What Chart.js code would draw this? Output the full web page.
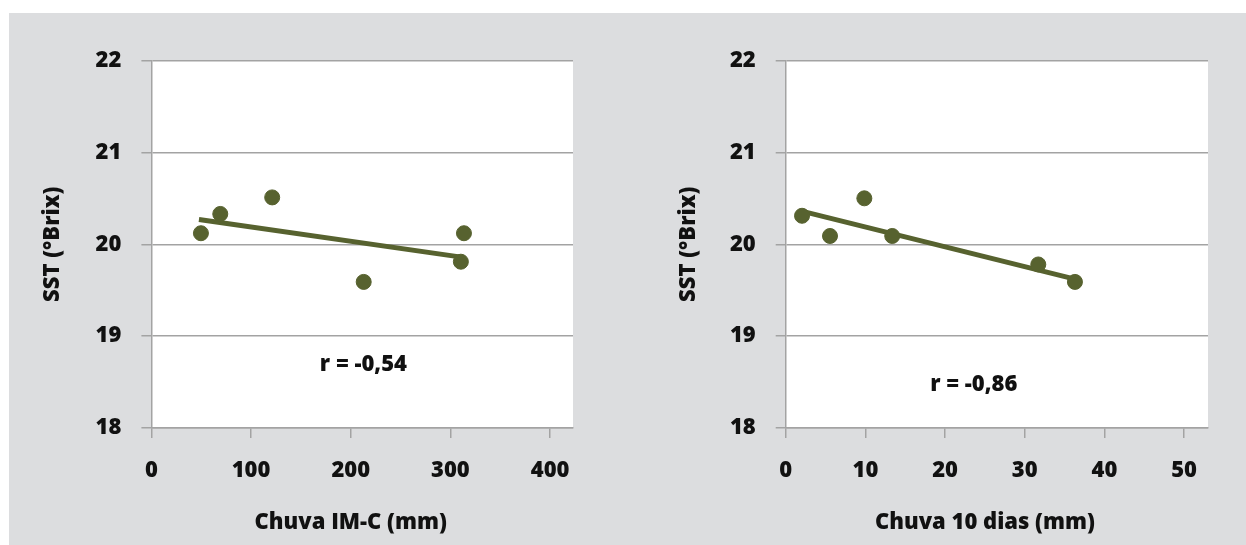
<!DOCTYPE html>
<html>
<head>
<meta charset="utf-8">
<script src="https://cdn.jsdelivr.net/npm/chart.js@4"></script>
<style>
  body { margin: 0; background: #ffffff; }
  #painel { position: absolute; left: 9px; top: 13px; width: 1237px; height: 532px; background: #dcdddf; }
  #wrapIMC { position: absolute; left: 0; top: 0; width: 611px; height: 532px; }
  #wrap10 { position: absolute; left: 611px; top: 0; width: 626px; height: 532px; }
</style>
</head>
<body>
<div id="painel">
  <div id="wrapIMC"><canvas id="graficoIMC"></canvas></div>
  <div id="wrap10"><canvas id="grafico10"></canvas></div>
</div>
<script>
// dados
var chuvaIMC = [49.7, 69.1, 121.2, 213, 310.5, 313.6];
var sstIMC = [20.12, 20.33, 20.51, 19.59, 19.81, 20.12];
var tendIMCx = [47.7, 311];
var tendIMCy = [20.27, 19.86];

var chuva10 = [2.05, 5.56, 9.87, 13.37, 31.7, 36.3];
var sst10 = [20.31, 20.09, 20.50, 20.09, 19.78, 19.59];
var tend10x = [2, 36.3];
var tend10y = [20.36, 19.62];

var yTicks = [18, 19, 20, 21, 22];
var xTicksIMC = [0, 100, 200, 300, 400];
var xTicks10 = [0, 10, 20, 30, 40, 50];

var corPonto = '#57622f';
var corGrade = '#a3a3a3';

Chart.defaults.font.family = '"Open Sans", sans-serif';
Chart.defaults.font.weight = '800';
Chart.defaults.font.size = 22;
Chart.defaults.color = '#111111';

// fundo branco so na area do grafico
var fundoPlugin = {
    id: 'fundo',
    beforeDraw: function (chart) {
        var a = chart.chartArea;
        chart.ctx.save();
        chart.ctx.fillStyle = '#ffffff';
        chart.ctx.fillRect(a.left, a.top, a.right - a.left, a.bottom - a.top);
        chart.ctx.restore();
    }
};

// r e titulo do eixo x
var textosPlugin = {
    id: 'textos',
    afterDraw: function (chart, args, opts) {
        var ctx = chart.ctx;
        var x = chart.scales.x, y = chart.scales.y;
        ctx.save();
        ctx.font = '800 22px "Open Sans", sans-serif';
        ctx.fillStyle = '#111111';
        ctx.textAlign = 'center';
        ctx.textBaseline = 'middle';
        ctx.fillText(opts.rotulo, x.getPixelForValue(opts.rx), y.getPixelForValue(opts.ry));
        ctx.fillText(opts.tituloX, x.getPixelForValue(opts.meioX), opts.tituloY);
        ctx.restore();
    }
};

function pares(xs, ys) {
    return xs.map(function (v, i) { return { x: v, y: ys[i] }; });
}

function criarGrafico(id, xs, ys, tx, ty, xTicks, xMax, cfg) {
    var ctx = document.getElementById(id).getContext('2d');
    return new Chart(ctx, {
        type: 'scatter',
        data: {
            datasets: [{
                data: pares(xs, ys),
                backgroundColor: corPonto,
                borderColor: corPonto,
                pointRadius: 7.5,
                pointHoverRadius: 7.5
            }, {
                type: 'line',
                data: pares(tx, ty),
                borderColor: corPonto,
                borderWidth: 5,
                pointRadius: 0,
                fill: false
            }]
        },
        options: {
            responsive: true,
            maintainAspectRatio: false,
            animation: false,
            events: [],
            layout: { padding: { left: 0, top: 47.5, right: cfg.direita, bottom: 0 } },
            plugins: {
                legend: { display: false },
                tooltip: { enabled: false },
                textos: cfg.textos
            },
            scales: {
                x: {
                    type: 'linear',
                    min: 0,
                    max: xMax,
                    afterBuildTicks: function (scale) {
                        scale.ticks = xTicks.map(function (v) { return { value: v }; });
                    },
                    afterFit: function (scale) { scale.height = 117; },
                    grid: { drawOnChartArea: false, drawTicks: true, tickLength: 10, color: corGrade, lineWidth: 1.5 },
                    border: { display: true, color: corGrade, width: 1.5 },
                    ticks: { padding: 20, maxRotation: 0 }
                },
                y: {
                    type: 'linear',
                    min: 18,
                    max: 22,
                    afterBuildTicks: function (scale) {
                        scale.ticks = yTicks.map(function (v) { return { value: v }; });
                    },
                    afterFit: function (scale) { scale.width = cfg.larguraY; },
                    grid: { drawOnChartArea: true, drawTicks: true, tickLength: 10, color: corGrade, lineWidth: 1.5 },
                    border: { display: true, color: corGrade, width: 1.5 },
                    ticks: { padding: 20 },
                    title: {
                        display: true,
                        text: 'SST (°Brix)',
                        font: { size: 22, weight: '800' },
                        padding: { top: cfg.tituloY, bottom: 0 }
                    }
                }
            }
        },
        plugins: [fundoPlugin, textosPlugin]
    });
}

var graficoIMC = criarGrafico('graficoIMC', chuvaIMC, sstIMC, tendIMCx, tendIMCy, xTicksIMC, 423, {
    direita: 47,
    larguraY: 142.4,
    tituloY: 31,
    textos: { rotulo: 'r = -0,54', rx: 212.7, ry: 18.69, tituloX: 'Chuva IM-C (mm)', meioX: 200, tituloY: 510 }
});

var grafico10 = criarGrafico('grafico10', chuva10, sst10, tend10x, tend10y, xTicks10, 53, {
    direita: 38,
    larguraY: 165.7,
    tituloY: 55.5,
    textos: { rotulo: 'r = -0,86', rx: 23.6, ry: 18.47, tituloX: 'Chuva 10 dias (mm)', meioX: 25, tituloY: 510 }
});
</script>
</body>
</html>
